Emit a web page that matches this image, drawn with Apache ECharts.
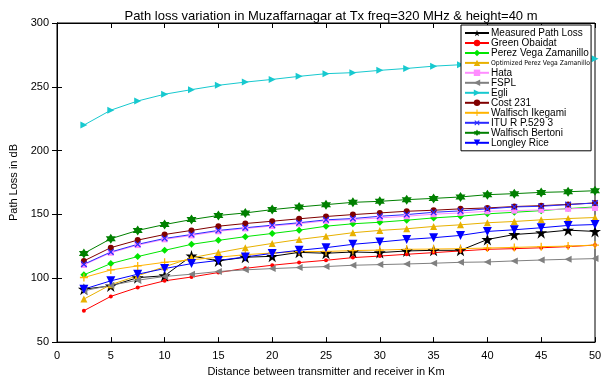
<!DOCTYPE html>
<html>
<head>
<meta charset="utf-8">
<script src="https://cdn.jsdelivr.net/npm/echarts@6/dist/echarts.min.js"></script>
<style>
  html, body { margin: 0; padding: 0; background: #fff; }
  #chart { width: 613px; height: 382px; }
</style>
</head>
<body>
<div id="chart"></div>
<script>
// Distances (km) at which each model was evaluated
const distance = [2.5, 5, 7.5, 10, 12.5, 15, 17.5, 20, 22.5, 25, 27.5, 30, 32.5, 35, 37.5, 40, 42.5, 45, 47.5, 50];

// Path loss (dB) per model
const measuredPathLoss = [91.5, 94, 100.5, 102, 117.5, 113.6, 116.5, 117.2, 120.3, 119.6, 120.6, 120.1, 121.4, 121.9, 121.9, 130.4, 134.3, 135.7, 137.7, 136.7];
const greenObaidat     = [74.6, 85.8, 92.8, 98, 101, 104.5, 107.8, 110.2, 112.3, 114.1, 116.2, 117.4, 118.8, 120.1, 121.4, 122.7, 123.2, 123.9, 124.8, 126];
const perezVega        = [102.7, 111.5, 117, 121.9, 126.6, 129.7, 132.6, 135.1, 137.7, 140.8, 142.7, 143.9, 145.5, 147.3, 148.6, 150.5, 151.7, 153, 154.6, 155.9];
const optimizedPerez   = [83.7, 95, 102, 109, 116, 120.1, 124, 127.3, 130.4, 133, 135.7, 137.5, 138.8, 140.6, 141.9, 143.5, 144.5, 145.8, 146.8, 147.6];
const hata             = [110.5, 120, 126, 130.5, 133.6, 136.8, 139, 141, 142.8, 145, 146, 147.3, 148.6, 150.2, 151.2, 152.5, 153, 153.6, 154.4, 155.1];
const fspl             = [90.2, 94.5, 98.5, 101.4, 103.2, 105.3, 106.6, 107.6, 108.4, 109.2, 110.2, 110.7, 111.2, 111.8, 112.5, 112.8, 113.6, 114.3, 114.9, 115.4];
const egli             = [220, 231.7, 238.9, 244.2, 247.8, 251.2, 253.7, 255.8, 258.2, 260.3, 261.1, 262.9, 264.4, 266.2, 267.3, 268.4, 269.4, 270.3, 271.2, 272];
const cost231          = [113.6, 124, 129.9, 134.3, 137.5, 140.8, 142.9, 144.7, 146.6, 148.4, 149.9, 151.2, 152.5, 153.3, 154.4, 155.1, 156.2, 156.9, 157.9, 159];
const walfischIkegami  = [100.6, 106.5, 109.7, 112.5, 114.5, 116.5, 118.5, 119.8, 120.9, 121, 121.7, 122.1, 122.7, 122.9, 123.2, 123.7, 124.2, 124.8, 125.2, 126];
const ituR529          = [111, 120.6, 126.6, 131.2, 134.3, 137.5, 139.6, 141.6, 143.5, 145.8, 146.8, 148.6, 149.9, 151.7, 152.8, 154.4, 155.9, 156.4, 157.7, 159];
const walfischBertoni  = [119.5, 131, 137.5, 142.1, 146, 149.2, 151.2, 153.8, 155.9, 157.7, 159.5, 160.3, 161.6, 162.6, 163.7, 165.5, 166.3, 167.3, 167.8, 168.6];
const longleyRice      = [91.5, 98, 103.2, 107.6, 111.5, 114, 116.7, 119.5, 121.9, 124, 126.6, 128.4, 130.4, 131.8, 133.6, 136.7, 138, 139.6, 141.4, 142.1];

// Axis ticks
const xTicks = { min: 0, max: 50, interval: 5 };
const yTicks = { min: 50, max: 300, interval: 50 };

// Marker shapes
const STAR = 'path://M50,0 L61.2,34.5 L97.6,34.5 L68.2,55.9 L79.4,90.5 L50,69.1 L20.6,90.5 L31.8,55.9 L2.4,34.5 L38.8,34.5 Z';
const HEXAGRAM = 'path://M50,0 L64.4,25 L93.3,25 L78.9,50 L93.3,75 L64.4,75 L50,100 L35.6,75 L6.7,75 L21.1,50 L6.7,25 L35.6,25 Z';
const PLUS = 'path://M42,0 H58 V42 H100 V58 H58 V100 H42 V58 H0 V42 H42 Z';

const FONT = 'Liberation Sans, Arial, Helvetica, sans-serif';
const NARROW_FONT = '"Liberation Sans Narrow", "DejaVu Sans Condensed", "Arial Narrow", sans-serif';

function pairs(values) {
  return distance.map((d, i) => [d, values[i]]);
}

function line(name, values, color, symbol, size, rotate) {
  return {
    name: name,
    type: 'line',
    data: pairs(values),
    symbol: symbol,
    symbolSize: size,
    symbolRotate: rotate || 0,
    showSymbol: true,
    animation: false,
    lineStyle: { color: color, width: 1 },
    itemStyle: { color: color, borderWidth: 0 },
    emphasis: { disabled: true }
  };
}

const series = [
  line('Measured Path Loss', measuredPathLoss, '#000000', STAR, 12),
  line('Green Obaidat', greenObaidat, '#ff0000', 'circle', 4),
  line('Perez Vega Zamanillo', perezVega, '#00e600', 'diamond', 7),
  line('Optimized Perez Vega Zamanillo', optimizedPerez, '#e8b100', 'triangle', 7),
  line('Hata', hata, '#ff8cff', 'rect', 6),
  line('FSPL', fspl, '#808080', 'triangle', 7, 90),
  line('Egli', egli, '#17c9cf', 'triangle', 7, -90),
  line('Cost 231', cost231, '#800000', 'circle', 6),
  line('Walfisch Ikegami', walfischIkegami, '#ffb400', PLUS, 8),
  line('ITU R P.529 3', ituR529, '#2a2aff', PLUS, 8, 45),
  line('Walfisch Bertoni', walfischBertoni, '#008000', HEXAGRAM, 10),
  line('Longley Rice', longleyRice, '#0000ff', 'triangle', 9, 180)
];

const chart = echarts.init(document.getElementById('chart'), null, { renderer: 'canvas' });

const axisText = { color: '#000', fontSize: 11, fontFamily: FONT };

chart.setOption({
  backgroundColor: '#fff',
  animation: false,
  title: {
    text: 'Path loss variation in Muzaffarnagar at Tx freq=320 MHz & height=40 m',
    left: 326,
    textAlign: 'center',
    top: 5,
    textStyle: { color: '#000', fontSize: 13, fontWeight: 'normal', fontFamily: FONT }
  },
  grid: {
    left: 57, right: 18, top: 23, bottom: 39,
    show: true, borderColor: '#000', borderWidth: 1, backgroundColor: 'transparent'
  },
  legend: {
    orient: 'vertical',
    left: 461,
    top: 25,
    padding: [3, 1, 3, 3],
    itemWidth: 24,
    itemHeight: 8,
    itemGap: 0,
    backgroundColor: '#fff',
    borderColor: '#000',
    borderWidth: 1,
    z: 10,
    data: series.map(s => s.name),
    textStyle: {
      color: '#000', fontSize: 10, lineHeight: 9.8, fontFamily: FONT, padding: [0, 0, 0, -3],
      rich: {
        narrow: { fontSize: 6.8, lineHeight: 9.8, fontFamily: NARROW_FONT, color: '#000' }
      }
    },
    formatter: function (name) {
      return name === 'Optimized Perez Vega Zamanillo' ? '{narrow|' + name + '}' : name;
    }
  },
  xAxis: [
    {
      type: 'value',
      min: xTicks.min, max: xTicks.max, interval: xTicks.interval,
      name: 'Distance between transmitter and receiver in Km',
      nameLocation: 'middle',
      nameGap: 22,
      nameTextStyle: axisText,
      axisLine: { show: true, lineStyle: { color: '#000', width: 1 } },
      axisTick: { show: true, inside: true, length: 5, lineStyle: { color: '#000' } },
      axisLabel: Object.assign({ margin: 8 }, axisText),
      splitLine: { show: false }
    },
    {
      type: 'value', position: 'top',
      min: xTicks.min, max: xTicks.max, interval: xTicks.interval,
      axisLine: { show: true, lineStyle: { color: '#000', width: 1 } },
      axisTick: { show: true, inside: true, length: 5, lineStyle: { color: '#000' } },
      axisLabel: { show: false },
      splitLine: { show: false }
    }
  ],
  yAxis: [
    {
      type: 'value',
      min: yTicks.min, max: yTicks.max, interval: yTicks.interval,
      name: 'Path Loss in dB',
      nameLocation: 'middle',
      nameGap: 32,
      nameTextStyle: axisText,
      axisLine: { show: true, lineStyle: { color: '#000', width: 1 } },
      axisTick: { show: true, inside: true, length: 5, lineStyle: { color: '#000' } },
      axisLabel: Object.assign({ margin: 8 }, axisText),
      splitLine: { show: false }
    },
    {
      type: 'value', position: 'right',
      min: yTicks.min, max: yTicks.max, interval: yTicks.interval,
      axisLine: { show: true, lineStyle: { color: '#000', width: 1 } },
      axisTick: { show: true, inside: true, length: 5, lineStyle: { color: '#000' } },
      axisLabel: { show: false },
      splitLine: { show: false }
    }
  ],
  series: series
});
</script>
</body>
</html>
